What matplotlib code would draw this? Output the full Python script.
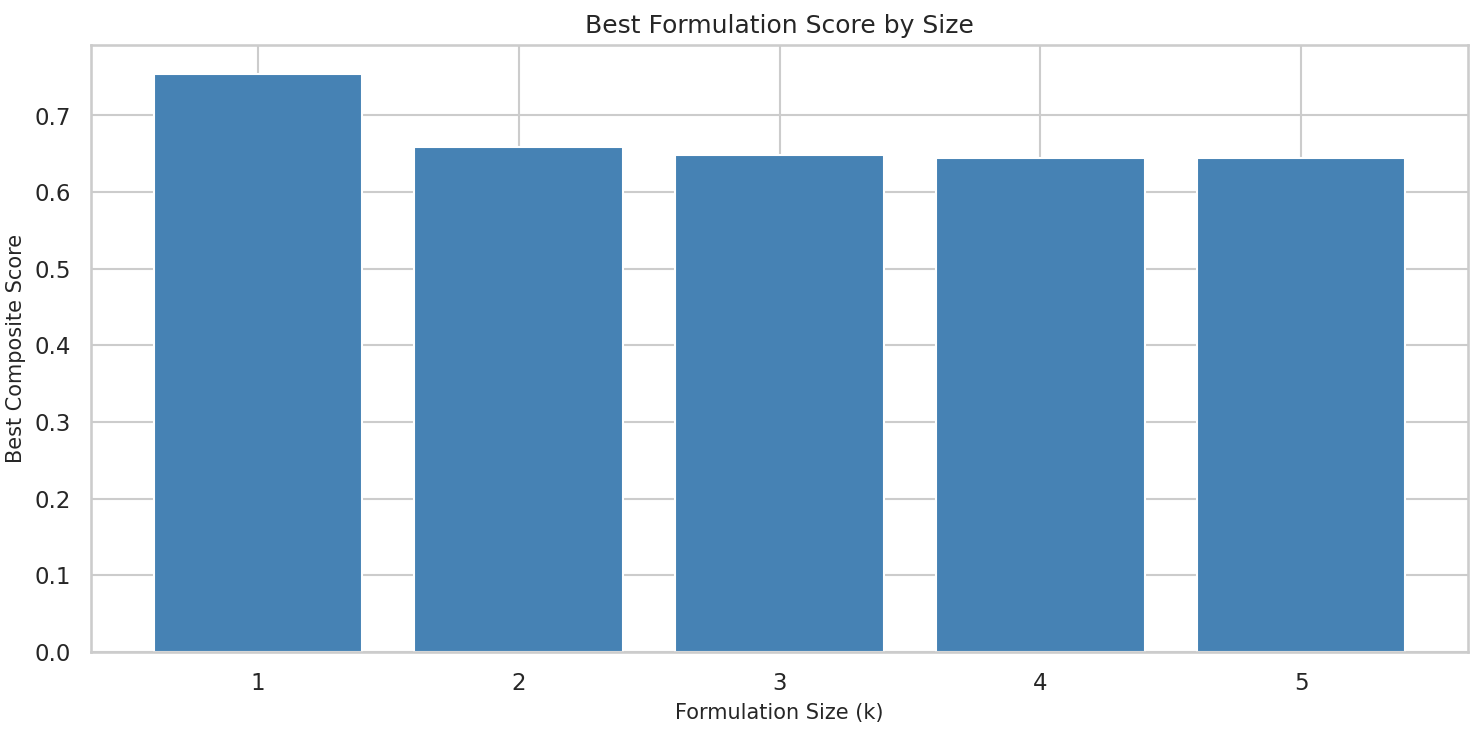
import matplotlib
matplotlib.use('Agg')
import matplotlib.pyplot as plt
import seaborn as sns

sizes = [1, 2, 3, 4, 5]
best_scores = [0.754, 0.659, 0.649, 0.644, 0.645]

sns.set_theme(style="whitegrid")

fig, ax = plt.subplots(figsize=(9.88, 4.867), dpi=150)
ax.bar(sizes, best_scores, color='steelblue')
ax.set_xlabel("Formulation Size (k)", fontsize=10)
ax.set_ylabel("Best Composite Score", fontsize=10)
ax.set_title("Best Formulation Score by Size", fontsize=12)
ax.set_xticks(sizes)

fig.subplots_adjust(left=0.0614, right=0.9906, top=0.938, bottom=0.107)
plt.savefig("out.png", dpi=150)
